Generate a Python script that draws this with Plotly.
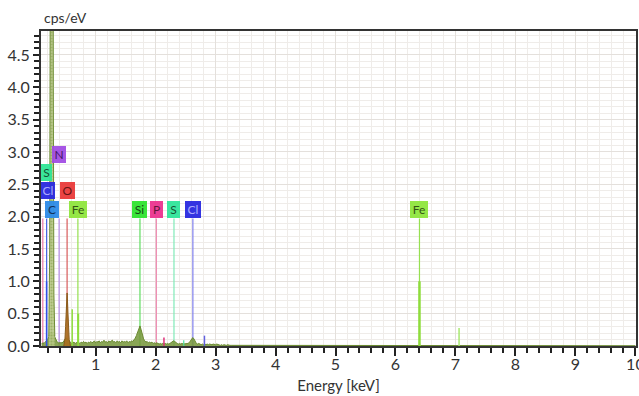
import plotly.graph_objects as go

# ---------------- data ----------------
# background spectrum, sampled every 0.02 keV starting at 0.10 keV
spec_start = 0.10
spec_step = 0.02
spec_counts = [
    0.03, 0.05, 0.04, 0.06, 0.08, 0.10, 0.14, 0.20, 0.20, 0.20, 0.18, 0.14,   # 0.10-0.32
    0.10, 0.06, 0.05, 0.05, 0.04, 0.05, 0.06, 0.10, 0.12, 0.12, 0.10, 0.07,   # 0.34-0.56
    0.05, 0.04, 0.05, 0.06, 0.04, 0.05, 0.06, 0.05, 0.04, 0.06, 0.05, 0.07,   # 0.58-0.80
    0.05, 0.06, 0.04, 0.06, 0.05, 0.07, 0.05, 0.06, 0.08, 0.05, 0.07, 0.06,   # 0.82-1.04
    0.08, 0.05, 0.07, 0.06, 0.09, 0.06, 0.07, 0.05, 0.08, 0.06, 0.07, 0.09,   # 1.06-1.28
    0.06, 0.07, 0.05, 0.08, 0.06, 0.07, 0.05, 0.08, 0.06, 0.07, 0.06, 0.08,   # 1.30-1.52
    0.05, 0.07, 0.06, 0.08, 0.07, 0.09, 0.12, 0.16, 0.22, 0.28, 0.31, 0.25,   # 1.54-1.76
    0.17, 0.11, 0.08, 0.06, 0.07, 0.05, 0.06, 0.05, 0.06, 0.04, 0.05, 0.04,   # 1.78-2.00
    0.05, 0.04, 0.03, 0.04, 0.03, 0.04, 0.03, 0.04, 0.03, 0.04, 0.03, 0.04,   # 2.02-2.24
    0.05, 0.07, 0.08, 0.07, 0.05, 0.04, 0.03, 0.04, 0.03, 0.04, 0.03, 0.03,   # 2.26-2.48
    0.04, 0.03, 0.04, 0.05, 0.08, 0.11, 0.13, 0.11, 0.07, 0.04, 0.03, 0.04,   # 2.50-2.72
    0.03, 0.02, 0.03, 0.02, 0.03, 0.02, 0.03, 0.02, 0.03, 0.02, 0.02, 0.03,   # 2.74-2.96
    0.02, 0.02, 0.03, 0.02, 0.02, 0.01, 0.02, 0.01, 0.02, 0.01, 0.01, 0.02,   # 2.98-3.20
    0.01, 0.01, 0.01, 0.01, 0.01, 0.01, 0.01, 0.01, 0.01, 0.01,               # 3.22-3.40
]
spec_energy = [round(spec_start + spec_step * i, 2) for i in range(len(spec_counts))]

tail_energy = [3.5, 4.0, 4.5, 5.0, 5.5, 6.0, 6.5, 7.0, 7.5, 8.0, 8.5, 9.0, 9.5, 10.0]
tail_counts = [0.010, 0.008, 0.008, 0.010, 0.007, 0.008, 0.008, 0.009, 0.006, 0.006, 0.005, 0.005, 0.005, 0.004]

# carbon K peak (clipped at the top of the plot)
c_peak_energy = [0.220, 0.235, 0.245, 0.255, 0.265, 0.275, 0.285, 0.295, 0.305, 0.320]
c_peak_counts = [0.15, 1.5, 6.0, 18.0, 28.0, 26.0, 14.0, 4.0, 0.8, 0.15]

# oxygen K peak
o_peak_energy = [0.470, 0.490, 0.500, 0.510, 0.520, 0.525, 0.530, 0.540, 0.550, 0.560, 0.580]
o_peak_counts = [0.00, 0.12, 0.30, 0.55, 0.76, 0.82, 0.74, 0.50, 0.25, 0.10, 0.00]

# narrow coloured fitted lines in the spectrum
spike_energy = [0.183, 0.610, 0.710, 2.140, 2.470, 2.815, 6.400, 7.060]
spike_counts = [1.00, 0.57, 0.50, 0.13, 0.09, 0.16, 1.00, 0.28]
spike_colors = ["#3050e8", "#8edc3c", "#8edc3c", "#e0307a", "#50e0a0", "#6060e0", "#8edc3c", "#a8e870"]
spike_widths = [1.5, 1.5, 2.0, 1.5, 1.2, 1.5, 2.5, 1.5]

# element marker lines
line_energy = [0.120, 0.183, 0.392, 0.525, 0.705, 1.740, 2.013, 2.307, 2.622, 6.400]
line_top = 1.97
line_colors = ["#ec7aa8", "#4a66e6", "#b48ae4", "#d85a5a", "#96e050",
               "#60dc60", "#ee88b0", "#80eab8", "#8080ec", "#96e050"]

# element label boxes
label_text = ["S", "Cl", "N", "O", "C", "Fe", "Si", "P", "S", "Cl", "Fe"]
label_x = [0.090, 0.090, 0.392, 0.525, 0.277, 0.705, 1.740, 2.013, 2.307, 2.622, 6.400]
label_y = [2.685, 2.410, 2.960, 2.410, 2.115, 2.115, 2.115, 2.115, 2.115, 2.115, 2.115]
label_anchor = ["left", "left", "center", "center", "center", "center",
                "center", "center", "center", "center", "center"]
label_bg = ["#30e696", "#2a2ae0", "#a24ee4", "#ea3a3a", "#2e8ce8", "#90e63e",
            "#30e430", "#ec3490", "#30e69a", "#2a2ae0", "#90e63e"]
label_fg = ["#0b4a2a", "#a8a8ff", "#3a0a60", "#5a0808", "#0a2a5a", "#2a4a08",
            "#0a3a0a", "#5a0a30", "#0a4a2a", "#a8a8ff", "#2a4a08"]
label_w = [11, 14, 14, 15, 14, 18, 15, 13, 13, 16, 18]

x_range = [0.09, 10.01]
y_range = [0.0, 4.87]

# ---------------- figure ----------------
FONT = "Lato"
fig = go.Figure()

# element lines
for e, col in zip(line_energy, line_colors):
    fig.add_trace(go.Scatter(x=[e, e], y=[0, line_top], mode="lines",
                             line=dict(color=col, width=1.2), hoverinfo="skip"))

# background spectrum
fig.add_trace(go.Scatter(x=spec_energy + tail_energy, y=spec_counts + tail_counts,
                         mode="lines", fill="tozeroy",
                         line=dict(color="#6a8a30", width=1),
                         fillcolor="rgba(118,150,56,0.85)", hoverinfo="skip"))

# carbon peak (hatched)
fig.add_trace(go.Scatter(x=c_peak_energy, y=c_peak_counts, mode="lines", fill="tozeroy",
                         line=dict(color="#6e8c34", width=1),
                         fillpattern=dict(shape=".", fgcolor="#7d9a42",
                                          bgcolor="rgba(185,200,135,0.9)", size=3, solidity=0.4),
                         hoverinfo="skip"))

# oxygen peak
fig.add_trace(go.Scatter(x=o_peak_energy, y=o_peak_counts, mode="lines", fill="tozeroy",
                         line=dict(color="#8a5c1a", width=1),
                         fillcolor="rgba(168,110,30,0.9)", hoverinfo="skip"))

# spikes
for e, h, col, w in zip(spike_energy, spike_counts, spike_colors, spike_widths):
    fig.add_trace(go.Scatter(x=[e, e], y=[0, h], mode="lines",
                             line=dict(color=col, width=w), hoverinfo="skip"))

# label boxes
for t, x, y, anc, bg, fg, w in zip(label_text, label_x, label_y, label_anchor,
                                   label_bg, label_fg, label_w):
    fig.add_annotation(x=x, y=y, xref="x", yref="y", text=t, showarrow=False,
                       xanchor=anc, yanchor="middle", bgcolor=bg, bordercolor=bg,
                       borderwidth=1, borderpad=1, width=w - 4, height=13,
                       font=dict(family=FONT, size=12, color=fg), opacity=0.95)

# y-axis title at the top
fig.add_annotation(x=0, y=1, xref="paper", yref="paper", text="cps/eV", showarrow=False,
                   xanchor="left", yanchor="bottom", yshift=3, xshift=1,
                   font=dict(family=FONT, size=14, color="#333333"))

fig.update_layout(
    width=639, height=396,
    margin=dict(l=41, r=3, t=31, b=50, autoexpand=False),
    paper_bgcolor="white", plot_bgcolor="white",
    showlegend=False,
    font=dict(family=FONT, size=15, color="#333333"),
)
fig.update_xaxes(
    range=x_range, tick0=0, dtick=1, ticks="outside", ticklen=8, tickwidth=1.5,
    tickcolor="#222222", showline=True, linecolor="#333333", linewidth=2, mirror=True,
    showgrid=True, gridcolor="#e4e0dc", gridwidth=1, zeroline=False, automargin=False,
    ticklabeloverflow="allow", ticklabelstandoff=-5,
    minor=dict(dtick=0.2, tick0=0, ticks="outside", ticklen=5, tickcolor="#222222",
               showgrid=True, gridcolor="#efece9", gridwidth=1),
    title=dict(text="Energy [keV]", font=dict(family=FONT, size=15, color="#333333"), standoff=8),
    tickfont=dict(family=FONT, size=16, color="#333333"),
)
fig.update_yaxes(
    range=y_range, tick0=0, dtick=0.5, tickformat=".1f", ticks="outside", ticklen=6,
    tickwidth=1.5, tickcolor="#222222", showline=True, linecolor="#333333", linewidth=2,
    mirror=True, showgrid=True, gridcolor="#e4e0dc", gridwidth=1, zeroline=False,
    automargin=False, ticklabeloverflow="allow",
    minor=dict(dtick=0.1, tick0=0, ticks="outside", ticklen=5, tickcolor="#222222",
               showgrid=True, gridcolor="#efece9", gridwidth=1),
    tickfont=dict(family=FONT, size=16, color="#333333"),
)

fig.write_html("out.html", config={"displayModeBar": False},
               post_script="document.body.style.margin='0';document.body.style.overflow='hidden';")
